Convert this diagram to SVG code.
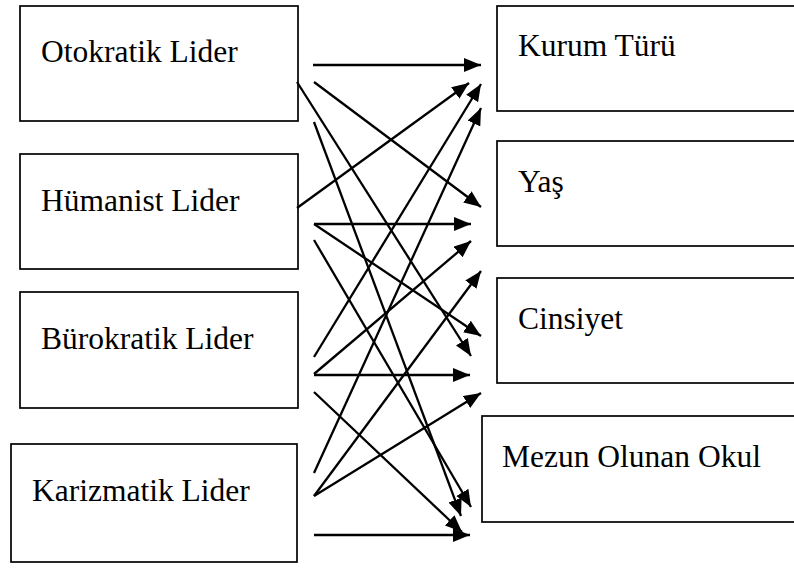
<svg xmlns="http://www.w3.org/2000/svg" width="794" height="574" viewBox="0 0 794 574">
  <style>
    .box { fill: #ffffff; stroke: #000000; stroke-width: 1.7; }
    .lbl { font-family: "Liberation Serif", "Times New Roman", serif; font-size: 31.5px; fill: #000000; }
    .edge { stroke: #000000; stroke-width: 2.3; fill: none; marker-end: url(#head); }
  </style>
  <defs>
    <marker id="head" markerUnits="userSpaceOnUse" markerWidth="18" markerHeight="15" refX="17" refY="7" orient="auto">
      <path d="M0,0 L17,7 L0,14 z" fill="#000000"/>
    </marker>
  </defs>

  <rect width="794" height="574" fill="#ffffff"/>

  <!-- leadership styles -->
  <g id="otokratik">
    <rect class="box" x="20" y="6" width="278" height="115"/>
    <text class="lbl" x="41" y="62">Otokratik Lider</text>
  </g>
  <g id="humanist">
    <rect class="box" x="20" y="154" width="278" height="115"/>
    <text class="lbl" x="41" y="211">Hümanist Lider</text>
  </g>
  <g id="burokratik">
    <rect class="box" x="20" y="292" width="278" height="116"/>
    <text class="lbl" x="41" y="349">Bürokratik Lider</text>
  </g>
  <g id="karizmatik">
    <rect class="box" x="11" y="444" width="286" height="118"/>
    <text class="lbl" x="32" y="501">Karizmatik Lider</text>
  </g>

  <!-- demographic variables -->
  <g id="kurum">
    <rect class="box" x="497" y="6" width="310" height="105"/>
    <text class="lbl" x="518" y="56">Kurum Türü</text>
  </g>
  <g id="yas">
    <rect class="box" x="497" y="141" width="310" height="105"/>
    <text class="lbl" x="518" y="192">Yaş</text>
  </g>
  <g id="cinsiyet">
    <rect class="box" x="497" y="278" width="310" height="105"/>
    <text class="lbl" x="518" y="329">Cinsiyet</text>
  </g>
  <g id="mezun">
    <rect class="box" x="482" y="416" width="325" height="106"/>
    <text class="lbl" x="502" y="467">Mezun Olunan Okul</text>
  </g>

  <!-- connectors -->
  <g id="connectors">
    <line class="edge" x1="313" y1="65" x2="481" y2="65"/>
    <line class="edge" x1="314" y1="82" x2="481" y2="207"/>
    <line class="edge" x1="297" y1="82" x2="471" y2="356"/>
    <line class="edge" x1="314" y1="122" x2="461" y2="516"/>

    <line class="edge" x1="297" y1="208" x2="469" y2="83"/>
    <line class="edge" x1="314" y1="224" x2="471" y2="224"/>
    <line class="edge" x1="314" y1="224" x2="481" y2="336"/>
    <line class="edge" x1="314" y1="240" x2="471" y2="507"/>

    <line class="edge" x1="314" y1="357" x2="481" y2="84"/>
    <line class="edge" x1="314" y1="374" x2="471" y2="241"/>
    <line class="edge" x1="314" y1="375" x2="470" y2="375"/>
    <line class="edge" x1="314" y1="392" x2="462" y2="532"/>

    <line class="edge" x1="314" y1="473" x2="481" y2="108"/>
    <line class="edge" x1="314" y1="496" x2="481" y2="271"/>
    <line class="edge" x1="314" y1="496" x2="481" y2="393"/>
    <line class="edge" x1="314" y1="535" x2="470" y2="535"/>
  </g>
</svg>
